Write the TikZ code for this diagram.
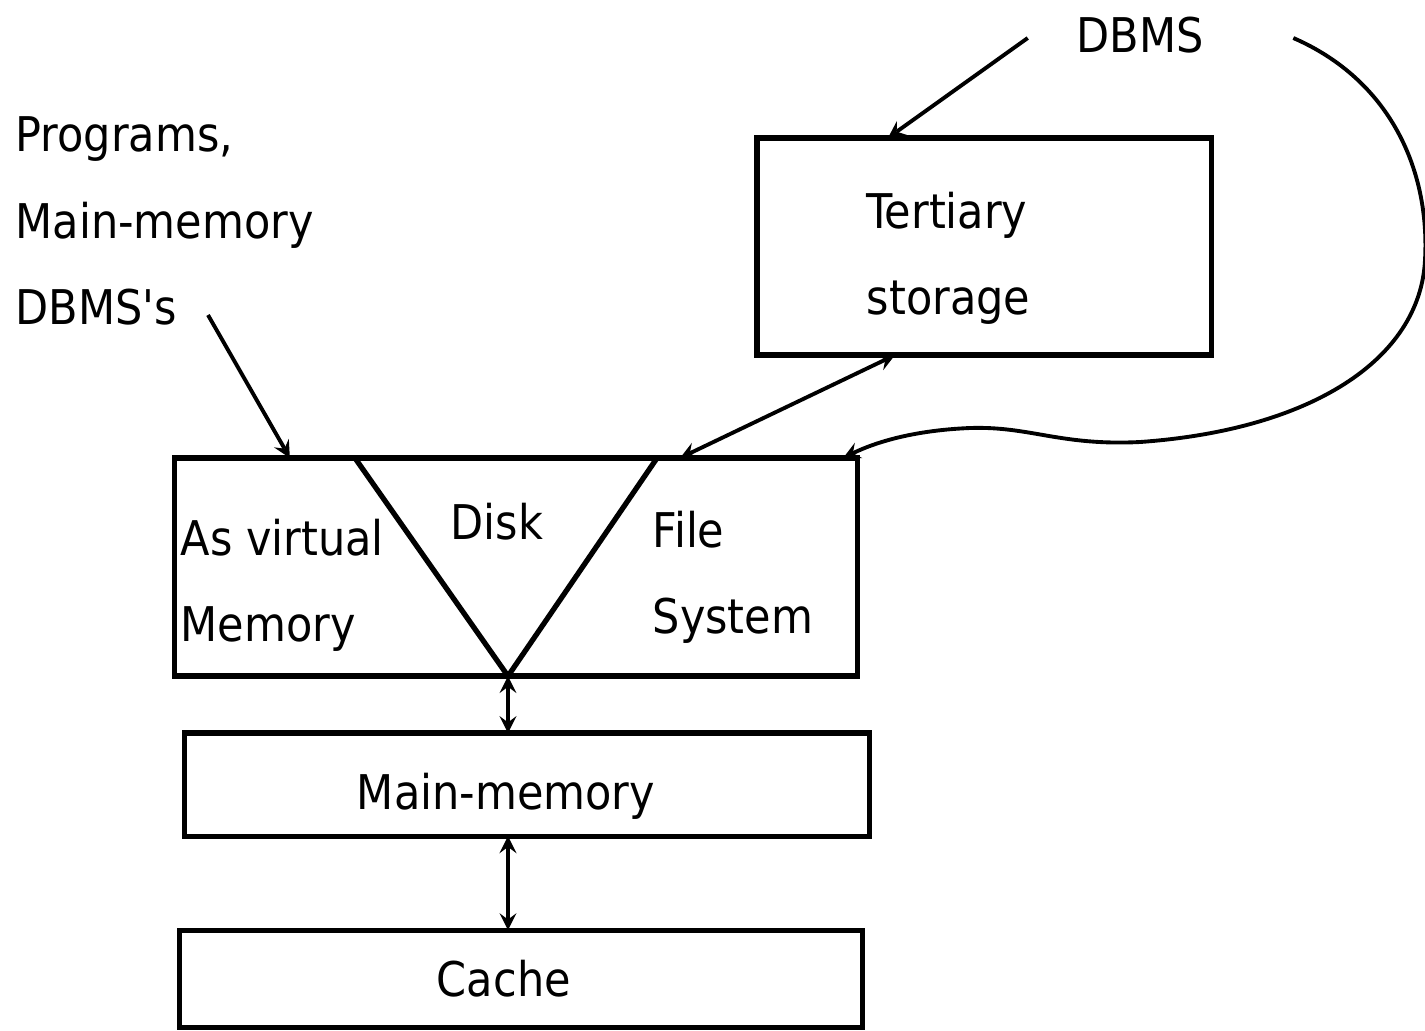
\documentclass[tikz,border=0pt]{standalone}
\usepackage{fontspec}
\setmainfont{DejaVu Sans Condensed}
\usetikzlibrary{positioning,arrows}
\setlength{\parindent}{0pt}
\tikzstyle{arrow} = [line width=1.1pt,->,>=stealth]
\tikzstyle{dArrow} = [line width=1.1pt,<->,>=stealth]
\tikzstyle{tRect} = [rectangle, draw=black, line width=1.5pt, inner sep=0pt, outer sep=0pt, align=left]
\tikzstyle{tText} = [inner sep=0pt, align=left]

\begin{document}
\begin{tikzpicture}[x=0.01cm, y=-0.01cm, font=\fontsize{13.6}{24.5}\selectfont]
        \useasboundingbox (0,0) rectangle (1425,1030);
        \node[tText] (dbms) at (1140,35) {DBMS};
        \node[tText, anchor=west] (prog) at (15,221) {Programs,\\Main-memory\\DBMS\textquotesingle s};
        \node[tRect, minimum width=4.54cm, minimum height=2.17cm] (tert) at (984,246.5) {};
        \node[tText, anchor=west] (tertTxt) at (866,258) {Tertiary\\storage};
        \node[tRect, minimum width=6.82cm, minimum height=2.18cm] (disk) at (516,567) {};
        \node[tRect, minimum width=6.84cm, minimum height=1.03cm, text width=3.40cm, text height=0.49cm, text depth=0pt] (mainmem) [below=0.57cm of disk, xshift=0.11cm] {Main-memory};
        \node[tRect, minimum width=6.82cm, minimum height=0.97cm, text width=1.68cm] (cache) [below=0.94cm of mainmem, xshift=-0.06cm] {Cache};
        % the disk, split in three
        \coordinate (vLeft) at ([xshift=1.8cm]disk.north west);
        \coordinate (vRight) at ([xshift=4.82cm]disk.north west);
        \coordinate (vBot) at ([xshift=3.33cm]disk.south west);
        \draw[line width=1.5pt] (vLeft) -- (vBot) -- (vRight);
        \node[tText, anchor=west] (virtMem) at (180,585) {As virtual\\Memory};
        \node[tText] (diskTxt) at (497,522) {Disk};
        \node[tText, anchor=west] (fileSys) at (652,577) {File\\System};
        % connectors
        \coordinate (progStart) at (208,315);
        \draw[arrow] (progStart) -- ([xshift=1.15cm]disk.north west);
        \draw[arrow] ([xshift=-0.48cm,yshift=-0.03cm]dbms.west) -- ([xshift=1.31cm]tert.north west);
        \draw[dArrow] ([xshift=1.38cm]tert.south west) -- ([xshift=5.05cm]disk.north west);
        \draw[arrow] ([xshift=0.89cm,yshift=-0.03cm]dbms.east) .. controls (1390,80) and (1430,170) .. (1425,260)
            .. controls (1420,360) and (1310,430) .. (1140,442)
            .. controls (1060,446) and (1030,426) .. (970,428)
            .. controls (920,430) and (880,440) .. ([xshift=-0.14cm]disk.north east);
        \draw[dArrow] (vBot) -- (vBot |- mainmem.north);
        \draw[dArrow] (vBot |- mainmem.south) -- (vBot |- cache.north);
\end{tikzpicture}
\end{document}
